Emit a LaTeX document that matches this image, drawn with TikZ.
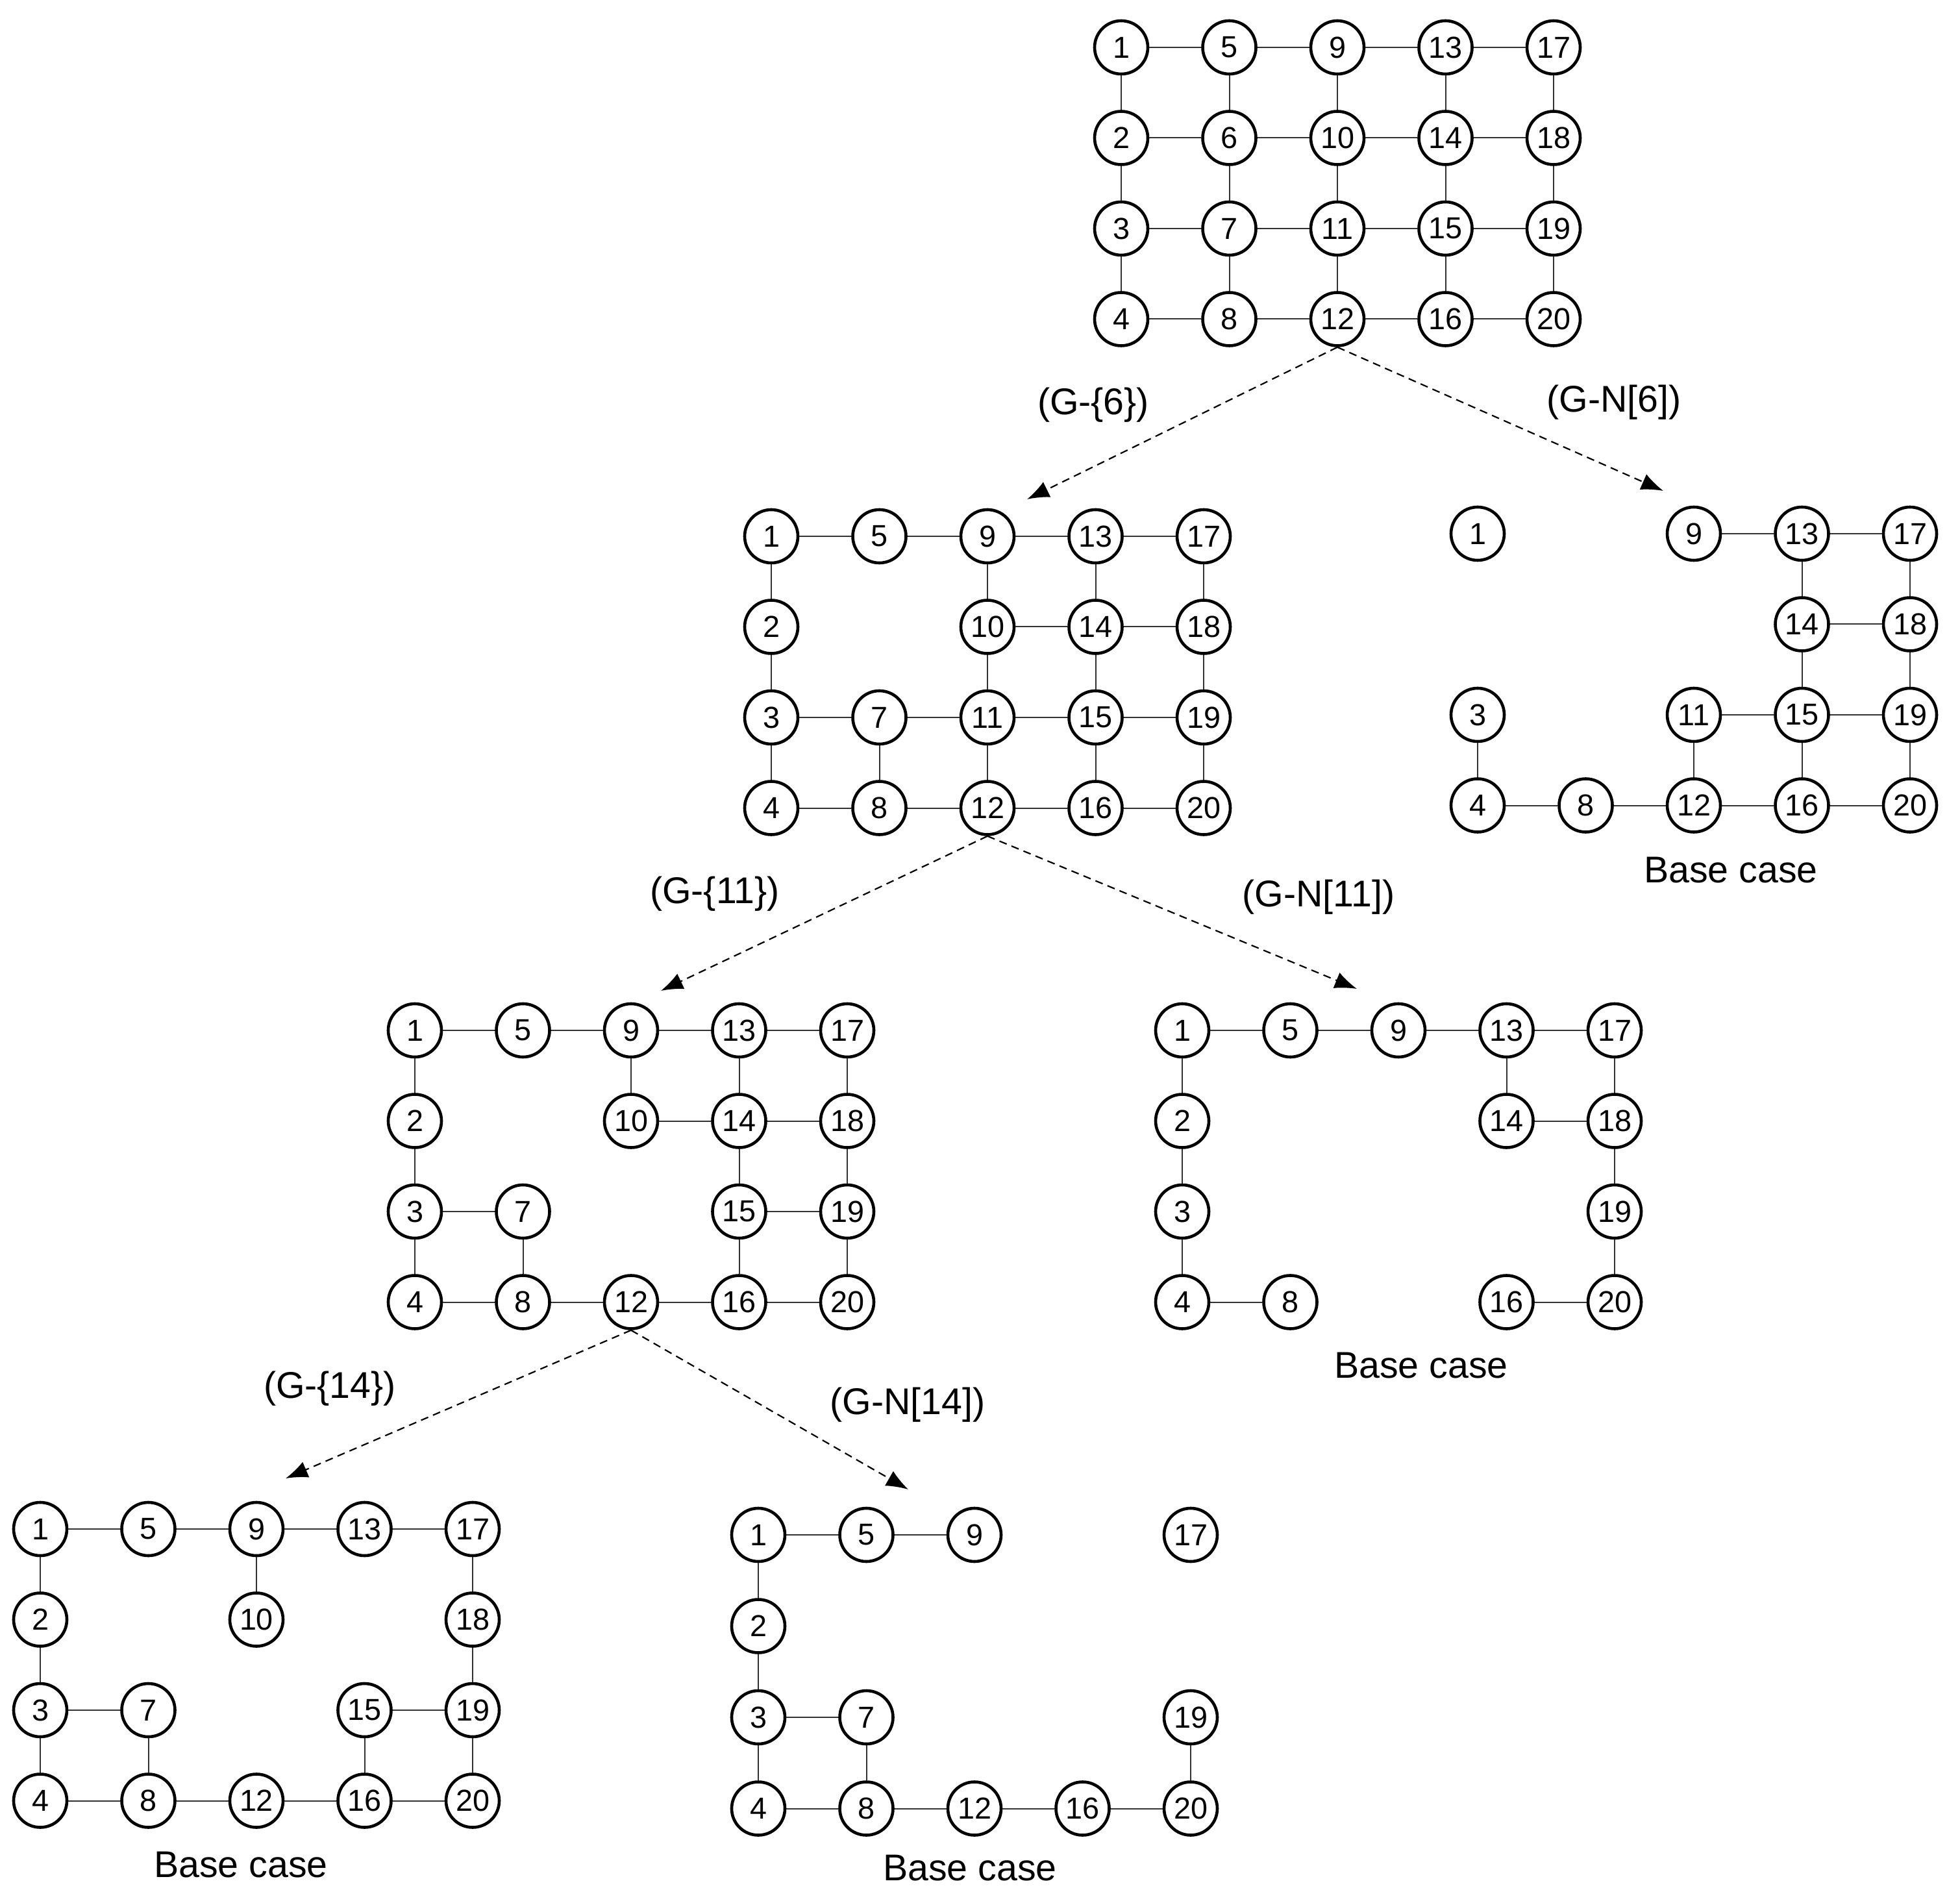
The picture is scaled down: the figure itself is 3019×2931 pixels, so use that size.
\documentclass[tikz,border=0pt]{standalone}
\usepackage{fontspec}
\setmainfont{Liberation Sans}
\usetikzlibrary{arrows.meta}

\begin{document}
\begin{tikzpicture}[x=0.1mm, y=-0.1mm, >={Latex[length=3.4mm,width=2.6mm]},
    vertex/.style={draw, circle, line width=0.46mm, minimum size=8.2mm, inner sep=0pt, font=\fontsize{13.3}{13.3}\selectfont},
    edge_line/.style={line width=0.2mm, black!80},
    branch/.style={->, line width=0.22mm, dash pattern=on 1.2mm off 0.8mm},
    caption/.style={font=\fontsize{16.3}{18}\selectfont}]

  \useasboundingbox (0,0) rectangle (3019,2931);

  % Graful initial G
  \foreach \k in {1,...,20} {
    \pgfmathtruncatemacro{\gcol}{(\k-1)/4}
    \pgfmathtruncatemacro{\grow}{mod(\k-1,4)}
    \node [vertex] (a\k) at ({1727+166.5*\gcol}, {73+139.5*\grow}) {\k};
  }
  \foreach \u/\v in {1/5, 5/9, 9/13, 13/17, 2/6, 6/10, 10/14, 14/18, 3/7, 7/11, 11/15, 15/19, 4/8, 8/12, 12/16, 16/20,
                     1/2, 2/3, 3/4, 5/6, 6/7, 7/8, 9/10, 10/11, 11/12, 13/14, 14/15, 15/16, 17/18, 18/19, 19/20}
    \draw [edge_line] (a\u) -- (a\v);

  % G-{6}
  \foreach \k in {1,2,3,4,5,7,8,9,10,11,12,13,14,15,16,17,18,19,20} {
    \pgfmathtruncatemacro{\gcol}{(\k-1)/4}
    \pgfmathtruncatemacro{\grow}{mod(\k-1,4)}
    \node [vertex] (b\k) at ({1188+166.5*\gcol}, {826+139.5*\grow}) {\k};
  }
  \foreach \u/\v in {1/5, 5/9, 9/13, 13/17, 10/14, 14/18, 3/7, 7/11, 11/15, 15/19, 4/8, 8/12, 12/16, 16/20,
                     1/2, 2/3, 3/4, 7/8, 9/10, 10/11, 11/12, 13/14, 14/15, 15/16, 17/18, 18/19, 19/20}
    \draw [edge_line] (b\u) -- (b\v);

  % G-N[6]
  \foreach \k in {1,3,4,8,9,11,12,13,14,15,16,17,18,19,20} {
    \pgfmathtruncatemacro{\gcol}{(\k-1)/4}
    \pgfmathtruncatemacro{\grow}{mod(\k-1,4)}
    \node [vertex] (c\k) at ({2276+166.5*\gcol}, {822+139.5*\grow}) {\k};
  }
  \foreach \u/\v in {9/13, 13/17, 14/18, 11/15, 15/19, 4/8, 8/12, 12/16, 16/20,
                     3/4, 11/12, 13/14, 14/15, 15/16, 17/18, 18/19, 19/20}
    \draw [edge_line] (c\u) -- (c\v);

  % G-{11}
  \foreach \k in {1,2,3,4,5,7,8,9,10,12,13,14,15,16,17,18,19,20} {
    \pgfmathtruncatemacro{\gcol}{(\k-1)/4}
    \pgfmathtruncatemacro{\grow}{mod(\k-1,4)}
    \node [vertex] (d\k) at ({639+166.5*\gcol}, {1587+139.5*\grow}) {\k};
  }
  \foreach \u/\v in {1/5, 5/9, 9/13, 13/17, 10/14, 14/18, 3/7, 15/19, 4/8, 8/12, 12/16, 16/20,
                     1/2, 2/3, 3/4, 7/8, 9/10, 13/14, 14/15, 15/16, 17/18, 18/19, 19/20}
    \draw [edge_line] (d\u) -- (d\v);

  % G-N[11]
  \foreach \k in {1,2,3,4,5,8,9,13,14,16,17,18,19,20} {
    \pgfmathtruncatemacro{\gcol}{(\k-1)/4}
    \pgfmathtruncatemacro{\grow}{mod(\k-1,4)}
    \node [vertex] (e\k) at ({1821+166.5*\gcol}, {1587+139.5*\grow}) {\k};
  }
  \foreach \u/\v in {1/5, 5/9, 9/13, 13/17, 14/18, 4/8, 16/20,
                     1/2, 2/3, 3/4, 13/14, 17/18, 18/19, 19/20}
    \draw [edge_line] (e\u) -- (e\v);

  % G-{14}
  \foreach \k in {1,2,3,4,5,7,8,9,10,12,13,15,16,17,18,19,20} {
    \pgfmathtruncatemacro{\gcol}{(\k-1)/4}
    \pgfmathtruncatemacro{\grow}{mod(\k-1,4)}
    \node [vertex] (f\k) at ({62+166.5*\gcol}, {2355+139.5*\grow}) {\k};
  }
  \foreach \u/\v in {1/5, 5/9, 9/13, 13/17, 3/7, 15/19, 4/8, 8/12, 12/16, 16/20,
                     1/2, 2/3, 3/4, 7/8, 9/10, 15/16, 17/18, 18/19, 19/20}
    \draw [edge_line] (f\u) -- (f\v);

  % G-N[14]
  \foreach \k in {1,2,3,4,5,7,8,9,12,16,17,19,20} {
    \pgfmathtruncatemacro{\gcol}{(\k-1)/4}
    \pgfmathtruncatemacro{\grow}{mod(\k-1,4)}
    \node [vertex] (g\k) at ({1168+166.5*\gcol}, {2364+140.5*\grow}) {\k};
  }
  \foreach \u/\v in {1/5, 5/9, 3/7, 4/8, 8/12, 12/16, 16/20,
                     1/2, 2/3, 3/4, 7/8, 19/20}
    \draw [edge_line] (g\u) -- (g\v);

  % Ramificari
  \coordinate (tip_b) at (1582,769);
  \coordinate (tip_c) at (2562,756);
  \coordinate (tip_d) at (1018,1526);
  \coordinate (tip_e) at (2090,1523);
  \coordinate (tip_f) at (440,2277);
  \coordinate (tip_g) at (1399,2294);
  \draw [branch] (a12.south) -- (tip_b);
  \draw [branch] (a12.south) -- (tip_c);
  \draw [branch] (b12.south) -- (tip_d);
  \draw [branch] (b12.south) -- (tip_e);
  \draw [branch] (d12.south) -- (tip_f);
  \draw [branch] (d12.south) -- (tip_g);

  % Etichete
  \node [caption] (label_b) at (1684,624) {(G-\{6\})};
  \node [caption] (label_c) at (2486,620) {(G-N[6])};
  \node [caption] (label_d) at (1101,1377) {(G-\{11\})};
  \node [caption] (label_e) at (2031,1382) {(G-N[11])};
  \node [caption] (label_f) at (508,2139) {(G-\{14\})};
  \node [caption] (label_g) at (1398,2164) {(G-N[14])};

  \node [caption] (base_c) at (2666,1340) {Base case};
  \node [caption] (base_e) at (2189,2103) {Base case};
  \node [caption] (base_f) at (371,2872) {Base case};
  \node [caption] (base_g) at (1494,2877) {Base case};

\end{tikzpicture}
\end{document}
